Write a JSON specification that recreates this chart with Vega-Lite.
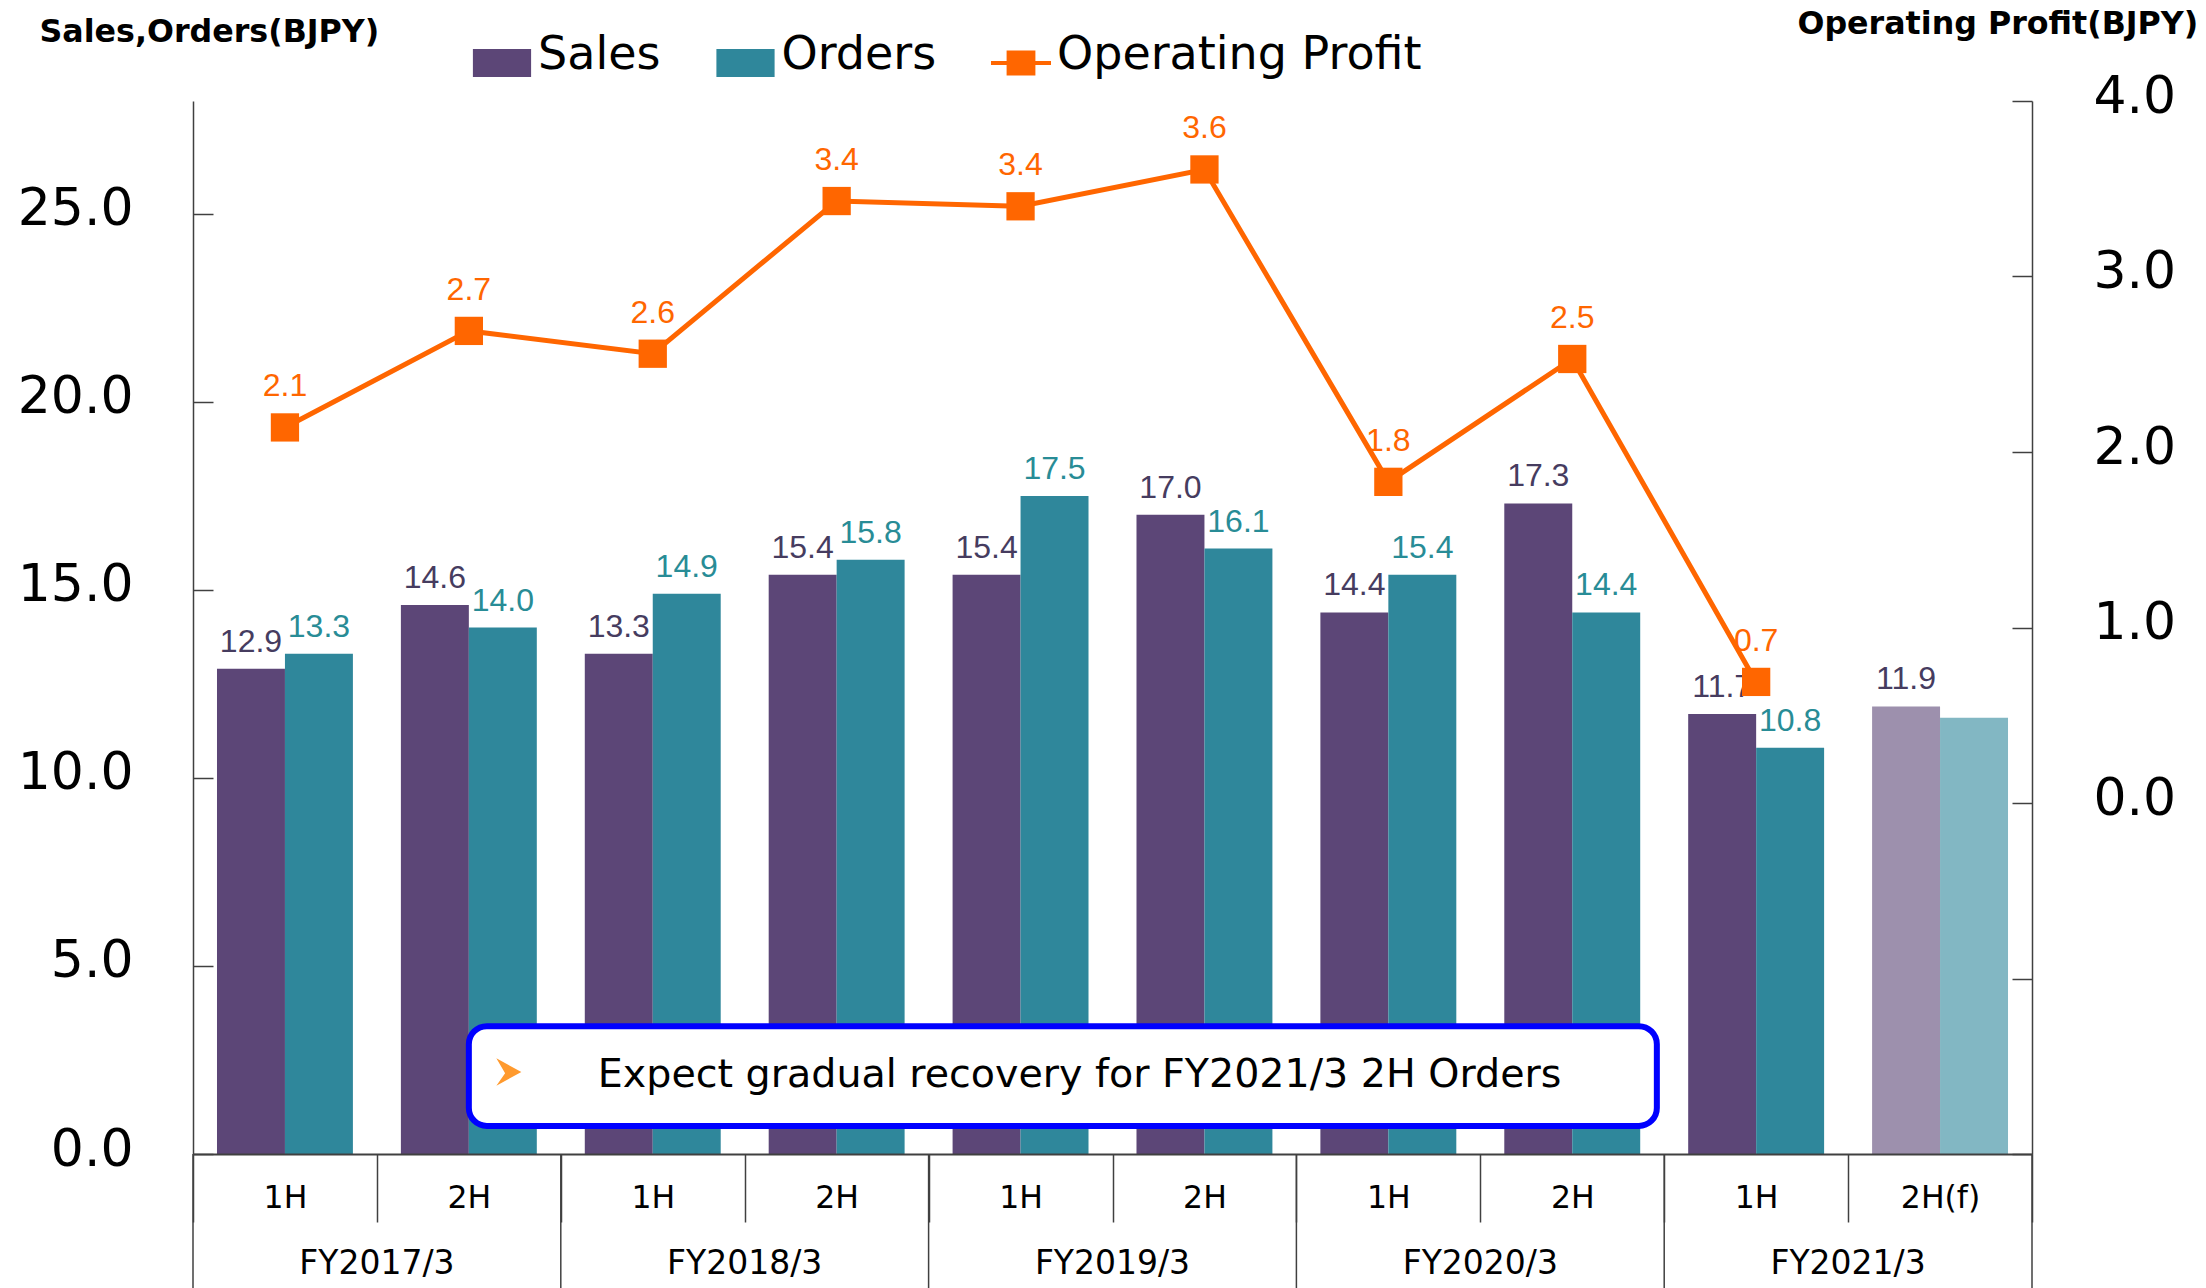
{
  "$schema": "https://vega.github.io/schema/vega-lite/v6.json",
  "width": 1839,
  "height": 1053,
  "autosize": {"type": "none"},
  "padding": {"left": 193, "top": 101, "right": 174, "bottom": 134},
  "background": "white",
  "config": {"view": {"stroke": null}},
  "datasets": {
    "bars": [
      {"cat": "FY2017/3|1H", "series": "Sales", "value": 12.9, "kind": "actual"},
      {"cat": "FY2017/3|1H", "series": "Orders", "value": 13.3, "kind": "actual"},
      {"cat": "FY2017/3|2H", "series": "Sales", "value": 14.6, "kind": "actual"},
      {"cat": "FY2017/3|2H", "series": "Orders", "value": 14.0, "kind": "actual"},
      {"cat": "FY2018/3|1H", "series": "Sales", "value": 13.3, "kind": "actual"},
      {"cat": "FY2018/3|1H", "series": "Orders", "value": 14.9, "kind": "actual"},
      {"cat": "FY2018/3|2H", "series": "Sales", "value": 15.4, "kind": "actual"},
      {"cat": "FY2018/3|2H", "series": "Orders", "value": 15.8, "kind": "actual"},
      {"cat": "FY2019/3|1H", "series": "Sales", "value": 15.4, "kind": "actual"},
      {"cat": "FY2019/3|1H", "series": "Orders", "value": 17.5, "kind": "actual"},
      {"cat": "FY2019/3|2H", "series": "Sales", "value": 17.0, "kind": "actual"},
      {"cat": "FY2019/3|2H", "series": "Orders", "value": 16.1, "kind": "actual"},
      {"cat": "FY2020/3|1H", "series": "Sales", "value": 14.4, "kind": "actual"},
      {"cat": "FY2020/3|1H", "series": "Orders", "value": 15.4, "kind": "actual"},
      {"cat": "FY2020/3|2H", "series": "Sales", "value": 17.3, "kind": "actual"},
      {"cat": "FY2020/3|2H", "series": "Orders", "value": 14.4, "kind": "actual"},
      {"cat": "FY2021/3|1H", "series": "Sales", "value": 11.7, "kind": "actual"},
      {"cat": "FY2021/3|1H", "series": "Orders", "value": 10.8, "kind": "actual"},
      {"cat": "FY2021/3|2H(f)", "series": "Sales", "value": 11.9, "kind": "forecast"},
      {"cat": "FY2021/3|2H(f)", "series": "Orders", "value": 11.6, "kind": "forecast"}
    ],
    "op": [
      {"cat": "FY2017/3|1H", "op": 2.14},
      {"cat": "FY2017/3|2H", "op": 2.69},
      {"cat": "FY2018/3|1H", "op": 2.56},
      {"cat": "FY2018/3|2H", "op": 3.43},
      {"cat": "FY2019/3|1H", "op": 3.40},
      {"cat": "FY2019/3|2H", "op": 3.61},
      {"cat": "FY2020/3|1H", "op": 1.83},
      {"cat": "FY2020/3|2H", "op": 2.53},
      {"cat": "FY2021/3|1H", "op": 0.69}
    ],
    "groups": [
      {"fy": "FY2017/3", "first": "FY2017/3|1H", "second": "FY2017/3|2H"},
      {"fy": "FY2018/3", "first": "FY2018/3|1H", "second": "FY2018/3|2H"},
      {"fy": "FY2019/3", "first": "FY2019/3|1H", "second": "FY2019/3|2H"},
      {"fy": "FY2020/3", "first": "FY2020/3|1H", "second": "FY2020/3|2H"},
      {"fy": "FY2021/3", "first": "FY2021/3|1H", "second": "FY2021/3|2H(f)"}
    ],
    "note": [
      {"text": "Expect gradual recovery for FY2021/3 2H Orders"}
    ]
  },
  "encoding": {
    "x": {
      "field": "cat", "type": "nominal",
      "scale": {"domain": ["FY2017/3|1H","FY2017/3|2H","FY2018/3|1H","FY2018/3|2H","FY2019/3|1H","FY2019/3|2H","FY2020/3|1H","FY2020/3|2H","FY2021/3|1H","FY2021/3|2H(f)"], "paddingInner": 0, "paddingOuter": 0},
      "axis": {
        "title": null, "titleOpacity": 0, "labelExpr": "split(datum.value, '|')[1]", "labelAngle": 0,
        "labelFont": "DejaVu Sans", "labelFontSize": 31.5, "labelColor": "black",
        "labelBaseline": "alphabetic", "labelPadding": -15, "labelOverlap": false,
        "tickBand": "extent", "tickSize": 68, "tickColor": "#404040", "tickWidth": 1.5,
        "domainColor": "#404040", "domainWidth": 2, "zindex": 1, "grid": false
      }
    }
  },
  "layer": [
    {
      "layer": [
        {
          "data": {"name": "bars"},
          "mark": {"type": "bar"},
          "encoding": {
            "xOffset": {"field": "series", "type": "nominal", "scale": {"domain": ["Sales", "Orders"], "paddingInner": 0, "paddingOuter": 0.353}},
            "y": {
              "field": "value", "type": "quantitative",
              "scale": {"domain": [0, 28], "nice": false, "zero": true},
              "axis": {
                "title": "Sales,Orders(BJPY)", "titleAngle": 0, "titleX": -154, "titleY": -60,
                "titleAlign": "left", "titleBaseline": "alphabetic", "titleFont": "DejaVu Sans",
                "titleFontSize": 31.7, "titleFontWeight": "bold", "titleColor": "black",
                "values": [0, 5, 10, 15, 20, 25], "format": ".1f",
                "labelFont": "DejaVu Sans", "labelFontSize": 52, "labelColor": "black",
                "labelPadding": 80, "labelOffset": -5,
                "tickSize": -20, "tickColor": "#404040", "tickWidth": 1.5,
                "domainColor": "#404040", "domainWidth": 1.5, "grid": false
              }
            },
            "color": {
              "field": "series", "type": "nominal",
              "scale": {"domain": ["Sales", "Orders"], "range": ["#5C4677", "#2F879B"]},
              "legend": {
                "title": null, "orient": "none", "legendX": 279, "legendY": -62,
                "direction": "horizontal", "padding": 0,
                "labelFont": "DejaVu Sans", "labelFontSize": 46, "labelColor": "black", "labelLimit": 1000,
                "labelBaseline": "alphabetic",
                "symbolSize": 3600, "symbolType": "M-0.97,-0.67H0.97V0.27H-0.97Z",
                "symbolStrokeWidth": 0, "symbolOpacity": 1,
                "labelOffset": 6, "columnPadding": 54.5
              }
            },
            "opacity": {"field": "kind", "type": "nominal", "scale": {"domain": ["actual", "forecast"], "range": [1, 0.6]}, "legend": null}
          }
        },
        {
          "data": {"name": "bars"},
          "transform": [{"filter": "!(datum.kind === 'forecast' && datum.series === 'Orders')"}],
          "mark": {"type": "text", "font": "Liberation Sans", "fontSize": 32, "baseline": "alphabetic", "dy": -17},
          "encoding": {
            "xOffset": {"field": "series", "type": "nominal"},
            "y": {"field": "value", "type": "quantitative"},
            "text": {"field": "value", "type": "quantitative", "format": ".1f"},
            "color": {"condition": {"test": "datum.series === 'Sales'", "value": "#463C5F"}, "value": "#288C96"}
          }
        },
        {
          "data": {"name": "note"},
          "mark": {"type": "rect", "fill": "white", "stroke": "#0000FF", "strokeWidth": 6, "cornerRadius": 18},
          "encoding": {
            "x": {"datum": "FY2017/3|2H", "bandPosition": 0.5},
            "x2": {"datum": "FY2020/3|2H", "bandPosition": 0.96},
            "y": {"datum": 0.745, "type": "quantitative"},
            "y2": {"datum": 3.4}
          }
        },
        {
          "data": {"name": "note"},
          "mark": {"type": "point", "shape": "M1,0L-1,-1.1L-0.3,0.1L-1,1.1Z", "size": 625, "filled": true, "color": "#FF9A2E", "opacity": 1, "xOffset": 40},
          "encoding": {
            "x": {"datum": "FY2017/3|2H", "bandPosition": 0.5},
            "y": {"datum": 2.18, "type": "quantitative"}
          }
        },
        {
          "data": {"name": "note"},
          "mark": {"type": "text", "font": "DejaVu Sans", "fontSize": 39.6, "color": "black", "align": "left", "baseline": "alphabetic", "dx": 129},
          "encoding": {
            "x": {"datum": "FY2017/3|2H", "bandPosition": 0.5},
            "y": {"datum": 1.78, "type": "quantitative"},
            "text": {"field": "text"}
          }
        },
        {
          "data": {"name": "groups"},
          "mark": {"type": "rule", "color": "#404040", "strokeWidth": 1.5},
          "encoding": {
            "x": {"field": "first", "type": "nominal", "bandPosition": 0},
            "y": {"datum": 0, "type": "quantitative"},
            "y2": {"datum": -3.6}
          }
        },
        {
          "data": {"name": "note"},
          "mark": {"type": "rule", "color": "#404040", "strokeWidth": 1.5},
          "encoding": {
            "x": {"datum": "FY2021/3|2H(f)", "bandPosition": 1},
            "y": {"datum": 0, "type": "quantitative"},
            "y2": {"datum": -3.6}
          }
        },
        {
          "data": {"name": "groups"},
          "mark": {"type": "text", "font": "DejaVu Sans", "fontSize": 33, "color": "black", "align": "center", "baseline": "alphabetic"},
          "encoding": {
            "x": {"field": "second", "type": "nominal", "bandPosition": 0},
            "y": {"datum": -3.19, "type": "quantitative"},
            "text": {"field": "fy"}
          }
        }
      ]
    },
    {
      "data": {"name": "op"},
      "encoding": {
        "y": {
          "field": "op", "type": "quantitative",
          "scale": {"domain": [-2, 4], "nice": false, "zero": false},
          "axis": {
            "orient": "right",
            "title": "Operating Profit(BJPY)", "titleAngle": 0, "titleX": -235, "titleY": -68,
            "titleAlign": "left", "titleBaseline": "alphabetic", "titleFont": "DejaVu Sans",
            "titleFontSize": 31.7, "titleFontWeight": "bold", "titleColor": "black",
            "values": [-2, -1, 0, 1, 2, 3, 4],
            "labelExpr": "datum.value < 0 ? '' : format(datum.value, '.1f')",
            "labelFont": "DejaVu Sans", "labelFontSize": 52, "labelColor": "black",
            "labelPadding": 81, "labelOffset": -5,
            "tickSize": -20, "tickColor": "#404040", "tickWidth": 1.5,
            "domainColor": "#404040", "domainWidth": 1.5, "grid": false
          }
        }
      },
      "layer": [
        {
          "mark": {"type": "line", "color": "#FF6600", "strokeWidth": 5}
        },
        {
          "mark": {"type": "point", "shape": "square", "filled": true, "size": 800, "color": "#FF6600", "opacity": 1}
        },
        {
          "mark": {"type": "text", "font": "Liberation Sans", "fontSize": 32, "color": "#FF6600", "baseline": "alphabetic", "dy": -31},
          "encoding": {
            "text": {"field": "op", "type": "quantitative", "format": ".1f"}
          }
        },
        {
          "transform": [{"filter": "false"}],
          "mark": {"type": "point", "filled": true, "color": "#FF6600"},
          "encoding": {
            "shape": {
              "datum": "Operating Profit",
              "scale": {"domain": ["Operating Profit"], "range": ["M-1,-0.27H1V-0.13H-1Z M-0.48,-0.62H0.48V0.22H-0.48Z"]},
              "legend": {
                "title": null, "orient": "none", "legendX": 798, "legendY": -62,
                "direction": "horizontal", "padding": 0,
                "labelFont": "DejaVu Sans", "labelFontSize": 46, "labelColor": "black", "labelLimit": 1000,
                "labelBaseline": "alphabetic",
                "symbolSize": 3600, "symbolFillColor": "#FF6600", "symbolStrokeWidth": 0, "symbolOpacity": 1,
                "labelOffset": 6
              }
            }
          }
        }
      ]
    }
  ],
  "resolve": {"scale": {"y": "independent"}}
}
